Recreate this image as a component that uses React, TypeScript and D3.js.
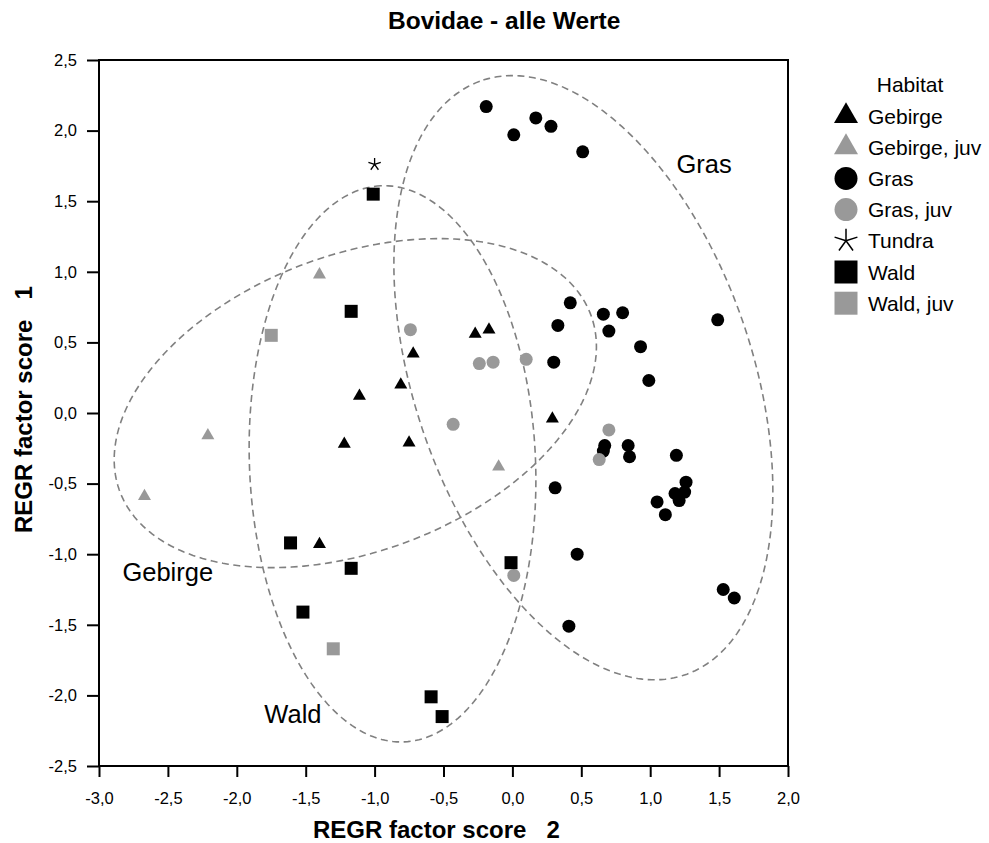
import React, { useRef, useEffect } from "react";
import * as d3 from "d3";

type Pt = [number, number];

// REGR factor score 2 (x), REGR factor score 1 (y)
const gebirge: Pt[] = [
  [-0.27, 0.56], [-0.17, 0.59], [-0.72, 0.42], [-0.81, 0.2], [0.29, -0.04],
  [-0.75, -0.21], [-1.11, 0.12], [-1.22, -0.22], [-1.4, -0.93],
];
const gebirgeJuv: Pt[] = [[-1.4, 0.98], [-2.21, -0.16], [-2.67, -0.59], [-0.1, -0.38]];
const gras: Pt[] = [
  [-0.19, 2.17], [0.01, 1.97], [0.17, 2.09], [0.28, 2.03], [0.51, 1.85],
  [0.42, 0.78], [0.66, 0.7], [0.8, 0.71], [0.33, 0.62], [0.7, 0.58],
  [1.49, 0.66], [0.93, 0.47], [0.3, 0.36], [0.99, 0.23], [0.67, -0.23],
  [0.66, -0.27], [0.84, -0.23], [0.85, -0.31], [1.19, -0.3], [0.31, -0.53],
  [1.26, -0.49], [1.18, -0.57], [1.25, -0.56], [1.21, -0.62], [1.05, -0.63],
  [1.11, -0.72], [0.47, -1.0], [1.53, -1.25], [1.61, -1.31], [0.41, -1.51],
];
const grasJuv: Pt[] = [
  [-0.74, 0.59], [-0.24, 0.35], [-0.14, 0.36], [0.1, 0.38],
  [-0.43, -0.08], [0.7, -0.12], [0.63, -0.33], [0.01, -1.15],
];
const tundra: Pt[] = [[-1.0, 1.76]];
const wald: Pt[] = [
  [-1.01, 1.55], [-1.17, 0.72], [-1.61, -0.92], [-1.17, -1.1],
  [-1.52, -1.41], [-0.01, -1.06], [-0.59, -2.01], [-0.51, -2.15],
];
const waldJuv: Pt[] = [[-1.75, 0.55], [-1.3, -1.67]];

const legendLabels = ["Gebirge", "Gebirge, juv", "Gras", "Gras, juv", "Tundra", "Wald", "Wald, juv"];
const xTicks = [-3, -2.5, -2, -1.5, -1, -0.5, 0, 0.5, 1, 1.5, 2];
const yTicks = [-2.5, -2, -1.5, -1, -0.5, 0, 0.5, 1, 1.5, 2, 2.5];

// group ellipses: centre, semi axes, angle (deg) in data units
const ellipseNames = ["Gras", "Gebirge", "Wald"];
const ellipseCenters: Pt[] = [[0.515, 0.25], [-1.14, 0.07], [-0.87, -0.36]];
const ellipseAxes: Pt[] = [[2.23, 1.223], [1.82, 1.052], [1.971, 1.038]];
const ellipseAngles = [109.7, 19.7, 92.45];
const ellipseLabelAt: Pt[] = [[1.19, 1.7], [-2.83, -1.19], [-1.8, -2.195]];

const BLACK = "#000";
const GREY = "#999";
const FONT = "'Liberation Sans', Arial, sans-serif";

const starPath = (r: number) => {
  let p = "";
  for (let i = 0; i < 5; i++) {
    const a = -Math.PI / 2 + (i * 2 * Math.PI) / 5;
    p += `M0,0L${r * Math.cos(a)},${r * Math.sin(a)}`;
  }
  return p;
};

const ellipsePath = (i: number, x: d3.ScaleLinear<number, number>, y: d3.ScaleLinear<number, number>) => {
  const [cx, cy] = ellipseCenters[i];
  const [a, b] = ellipseAxes[i];
  const th = (ellipseAngles[i] * Math.PI) / 180;
  const line = d3
    .line<number>()
    .curve(d3.curveLinearClosed)
    .x((t) => x(cx + a * Math.cos(t) * Math.cos(th) - b * Math.sin(t) * Math.sin(th)))
    .y((t) => y(cy + a * Math.cos(t) * Math.sin(th) + b * Math.sin(t) * Math.cos(th)));
  return line(d3.range(0, 2 * Math.PI, Math.PI / 120)) as string;
};

const App = () => {
  const ref = useRef<SVGSVGElement>(null);

  useEffect(() => {
    if (!ref.current) return;
    const svg = d3.select(ref.current);
    svg.selectAll("*").remove();

    const x = d3.scaleLinear().domain([-3, 2]).range([99, 788]);
    const y = d3.scaleLinear().domain([-2.5, 2.5]).range([766, 60]);
    const fmt = (d: number) => d3.format(".1f")(d).replace("\u2212", "-").replace(".", ",");

    // title
    svg
      .append("text")
      .attr("x", 388)
      .attr("y", 29)
      .attr("font-family", FONT)
      .attr("font-weight", "bold")
      .attr("font-size", 24.5)
      .text("Bovidae - alle Werte");

    // ellipses + labels
    ellipseNames.forEach((name, i) => {
      svg
        .append("path")
        .attr("d", ellipsePath(i, x, y))
        .attr("fill", "none")
        .attr("stroke", "#808080")
        .attr("stroke-width", 1.6)
        .attr("stroke-dasharray", "7,4.5");
      svg
        .append("text")
        .attr("x", x(ellipseLabelAt[i][0]))
        .attr("y", y(ellipseLabelAt[i][1]))
        .attr("font-family", FONT)
        .attr("font-size", 25.5)
        .text(name);
    });

    // frame
    svg
      .append("rect")
      .attr("x", x(-3))
      .attr("y", y(2.5))
      .attr("width", x(2) - x(-3))
      .attr("height", y(-2.5) - y(2.5))
      .attr("fill", "none")
      .attr("stroke", BLACK)
      .attr("stroke-width", 2);

    const xAxis = svg
      .append("g")
      .attr("transform", `translate(0,${y(-2.5)})`)
      .call(d3.axisBottom(x).tickValues(xTicks).tickSize(11).tickPadding(15).tickFormat(fmt as any));
    const yAxis = svg
      .append("g")
      .attr("transform", `translate(${x(-3)},0)`)
      .call(d3.axisLeft(y).tickValues(yTicks).tickSize(12).tickPadding(10).tickFormat(fmt as any));
    [xAxis, yAxis].forEach((g) => {
      g.select(".domain").remove();
      g.selectAll("line").attr("stroke", BLACK).attr("stroke-width", 2);
      g.selectAll("text").attr("font-family", FONT).attr("font-size", 16.5).attr("fill", BLACK);
    });

    // axis titles
    svg
      .append("text")
      .attr("x", 313)
      .attr("y", 838)
      .attr("font-family", FONT)
      .attr("font-weight", "bold")
      .attr("font-size", 24)
      .style("white-space", "pre")
      .text("REGR factor score   2");
    svg
      .append("text")
      .attr("transform", "translate(32,533) rotate(-90)")
      .attr("font-family", FONT)
      .attr("font-weight", "bold")
      .attr("font-size", 24)
      .style("white-space", "pre")
      .text("REGR factor score   1");

    // markers
    const tri = (s: number) => d3.symbol().type(d3.symbolTriangle).size((Math.sqrt(3) / 4) * s * s)();
    const sq = (s: number) => d3.symbol().type(d3.symbolSquare).size(s * s)();
    const circ = (r: number) => d3.symbol().type(d3.symbolCircle).size(Math.PI * r * r)();

    const groups = [
      { data: gebirge, path: tri(13), fill: BLACK, lpath: tri(24) },
      { data: gebirgeJuv, path: tri(13), fill: GREY, lpath: tri(24) },
      { data: gras, path: circ(6.5), fill: BLACK, lpath: circ(11.5) },
      { data: grasJuv, path: circ(6.5), fill: GREY, lpath: circ(11.5) },
      { data: tundra, path: starPath(6.5), fill: "none", lpath: starPath(12), star: true },
      { data: wald, path: sq(13), fill: BLACK, lpath: sq(23) },
      { data: waldJuv, path: sq(13), fill: GREY, lpath: sq(23) },
    ];

    const pts = svg.append("g");
    groups.forEach((g) => {
      pts
        .selectAll(null)
        .data(g.data)
        .enter()
        .append("path")
        .attr("transform", (d) => `translate(${x(d[0])},${y(d[1])})`)
        .attr("d", g.path as string)
        .attr("fill", g.fill)
        .attr("stroke", g.star ? BLACK : "none")
        .attr("stroke-width", 1.3);
    });

    // legend
    const lg = svg.append("g");
    lg.append("text")
      .attr("x", 910)
      .attr("y", 92)
      .attr("text-anchor", "middle")
      .attr("font-family", FONT)
      .attr("font-size", 21)
      .text("Habitat");
    legendLabels.forEach((lab, i) => {
      const ry = 116 + i * 31.2;
      const g = groups[i];
      lg.append("path")
        .attr("transform", `translate(846,${ry})`)
        .attr("d", g.lpath as string)
        .attr("fill", g.fill)
        .attr("stroke", g.star ? BLACK : "none")
        .attr("stroke-width", 1.5);
      lg.append("text")
        .attr("x", 868)
        .attr("y", ry + 7.5)
        .attr("font-family", FONT)
        .attr("font-size", 21)
        .text(lab);
    });
  }, []);

  return (
    <svg
      ref={ref}
      width={989}
      height={843}
      style={{ position: "absolute", left: 0, top: 0, background: "#fff" }}
    />
  );
};

export default App;
